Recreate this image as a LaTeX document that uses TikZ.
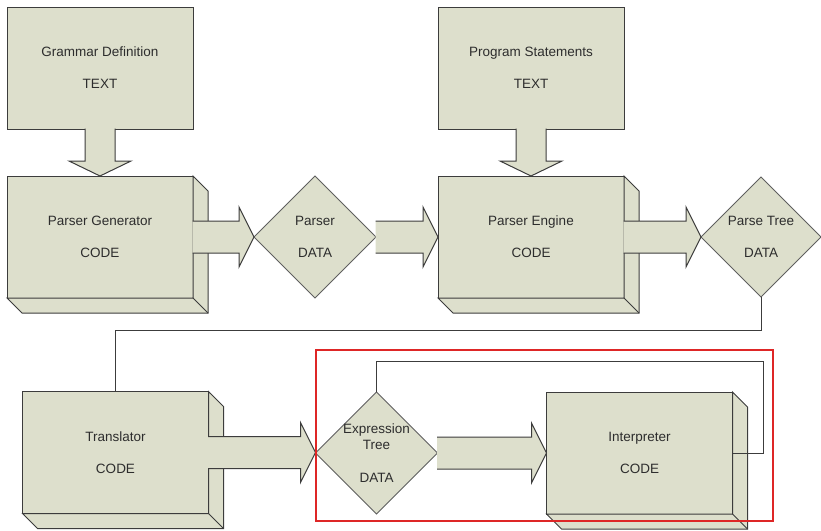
\documentclass[tikz,border=0pt]{standalone}
\usepackage{fontspec}
\setmainfont{Liberation Sans}
\usetikzlibrary{shapes.geometric,calc}
\definecolor{boxfill}{RGB}{221,223,204}
\definecolor{linec}{RGB}{60,60,60}
\definecolor{diac}{RGB}{95,95,95}
\definecolor{textc}{RGB}{45,45,45}
\definecolor{hilite}{RGB}{222,38,38}
\tikzset{
 txt/.style={text=textc, font=\fontsize{13.5}{32}\selectfont, align=center},
 facebox/.style={txt, rectangle, draw=linec, fill=boxfill, line width=1pt, minimum width=186pt, minimum height=122pt, inner sep=0pt, outer sep=0pt},
 datadia/.style={diamond, draw=diac, fill=boxfill, line width=1pt, minimum width=122pt, minimum height=122pt, inner sep=0pt, outer sep=0pt, aspect=1},
 dlabel/.style={txt, inner sep=0pt},
 extr/.style={draw=linec, fill=boxfill, line width=1pt, line join=miter},
 blockarrow/.style={draw=linec, fill=boxfill, line width=1pt},
 conn/.style={draw=linec, line width=1pt},
 focus/.style={draw=hilite, line width=1.6pt},
}
\newcommand{\extrude}[1]{%
 \filldraw[extr] (#1.north east) -- ++(15,15) -- ($(#1.south east)+(15,15)$) -- ($(#1.south west)+(15,15)$) -- (#1.south west) -- (#1.south east) -- cycle;
 \draw[extr, fill=none] (#1.south east) -- ++(15,15);}
\newcommand{\rightblock}[2]{%
 \filldraw[blockarrow] let \p1=(#1.east), \p2=(#2.west) in
 (\x1-0.5pt,\y1+16pt) -- (\x2-15pt,\y1+16pt) -- (\x2-15pt,\y1+30pt) -- (\x2,\y1) -- (\x2-15pt,\y1-30pt) -- (\x2-15pt,\y1-16pt) -- (\x1-0.5pt,\y1-16pt);}
\newcommand{\downblock}[2]{%
 \filldraw[blockarrow] let \p1=(#1.south), \p2=(#2.north) in
 (\x1-15pt,\y1+0.5pt) -- (\x1-15pt,\y2+15pt) -- (\x1-31pt,\y2+15pt) -- (\x1,\y2) -- (\x1+31pt,\y2+15pt) -- (\x1+15pt,\y2+15pt) -- (\x1+15pt,\y1+0.5pt);}
\begin{document}
\begin{tikzpicture}[x=1pt,y=-1pt]
\useasboundingbox (0,0) rectangle (821,530);
% text boxes
\node[facebox] (gd) at (100,68) {Grammar Definition\\TEXT};
\node[facebox] (ps) at (531,68) {Program Statements\\TEXT};
% code boxes
\node[facebox] (pg) at (100,237) {Parser Generator\\CODE};
\extrude{pg}
\node[facebox] (pe) at (531,237) {Parser Engine\\CODE};
\extrude{pe}
\node[facebox] (tr) at (115.5,452.5) {Translator\\CODE};
\extrude{tr}
\node[facebox] (in) at (639.5,453) {Interpreter\\CODE};
\extrude{in}
% down arrows
\downblock{gd}{pg}
\downblock{ps}{pe}
% data diamonds
\node[datadia] (pa) at (315,237) {};
\node[dlabel] (pal) at (pa) {Parser\\DATA};
\node[datadia, minimum width=120pt, minimum height=120pt] (pt) at (761,237) {};
\node[dlabel] (ptl) at (pt) {Parse Tree\\DATA};
\node[datadia] (et) at (376.5,453) {};
\node[dlabel, font=\fontsize{13.5}{16}\selectfont] (etl) at (et) {Expression\\Tree\\[17pt]DATA};
% right arrows
\rightblock{pg}{pa}
\rightblock{pa}{pe}
\rightblock{pe}{pt}
\rightblock{tr}{et}
\rightblock{et}{in}
% connectors
\draw[conn] (pt.south) -- ++(0,33) -| (tr.north);
\draw[conn] (in.east) -- ++(31,0) |- ($(et.north)+(0,-31)$) -- (et.north);
% highlight
\draw[focus] (316,350) rectangle (773,521);
\end{tikzpicture}
\end{document}
